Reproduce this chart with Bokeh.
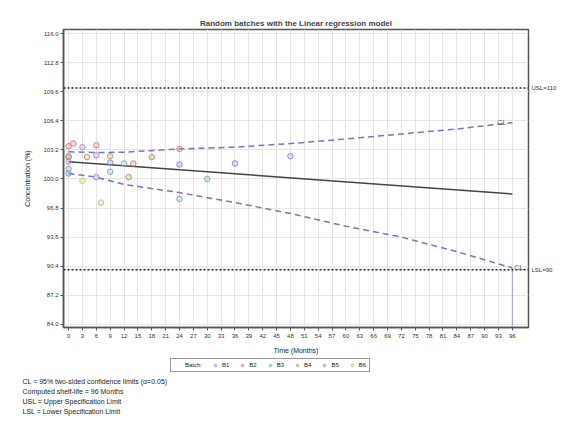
from bokeh.plotting import figure
from bokeh.layouts import column
from bokeh.models import (FixedTicker, PrintfTickFormatter, Label, Legend, LegendItem,
                          Range1d, Span, LinearAxis, Title)
from bokeh.embed import file_html
from bokeh.resources import INLINE

FONT = "Liberation Sans"

# ---- data ----
x_ticks = list(range(0, 97, 3))
y_ticks = [84.0, 87.2, 90.4, 93.6, 96.8, 100.0, 103.2, 106.4, 109.6, 112.8, 116.0]

batch_names = ["B1", "B2", "B3", "B4", "B5", "B6"]
months_B1 = [0, 0, 9, 24, 36, 48]
conc_B1 = [102.5, 100.6, 101.8, 101.6, 101.7, 102.5]
months_B2 = [0, 1, 6, 14, 24]
conc_B2 = [103.6, 103.9, 103.7, 101.7, 103.3]
months_B3 = [0, 9, 12, 24, 30]
conc_B3 = [101.1, 100.8, 101.7, 97.8, 100.0]
months_B4 = [0, 4, 9, 13, 18]
conc_B4 = [102.4, 102.4, 102.5, 100.2, 102.4]
months_B5 = [0, 3, 6, 6]
conc_B5 = [101.9, 103.5, 102.6, 100.2]
months_B6 = [3, 7]
conc_B6 = [99.8, 97.4]

fit_months = [0, 96]
fit_conc = [101.9, 98.35]

cl_months = [0, 6, 12, 24, 36, 48, 60, 72, 84, 96]
cl_upper = [103.0, 102.9, 102.95, 103.3, 103.5, 103.9, 104.4, 104.95, 105.5, 106.2]
cl_lower = [100.6, 100.2, 99.4, 98.5, 97.4, 96.2, 94.8, 93.6, 92.0, 90.2]

usl = 110
lsl = 90
shelf_life = 96

notes = ["CL = 95% two-sided confidence limits (\u03b1=0.05)",
         "Computed shelf-life =      96 Months",
         "USL = Upper Specification Limit",
         "LSL = Lower Specification Limit"]

colors = ["#8c8cd8", "#e07a7a", "#7fb2aa", "#c49a62", "#ad8ad8", "#bccb72"]

W = 574
p = figure(width=W, height=356, output_backend="svg", toolbar_location=None,
           x_range=Range1d(-1.1, 99.5), y_range=Range1d(83.65, 116.45),
           min_border_left=63, min_border_right=46, min_border_top=29, min_border_bottom=29)

p.background_fill_color = "white"
p.border_fill_color = "white"
p.outline_line_color = "#555555"
p.outline_line_width = 1.5

p.title.text = "Random batches with the Linear regression model"
p.title.align = "center"
p.title.text_font = FONT
p.title.text_font_size = "8px"
p.title.text_font_style = "bold"
p.title.standoff = 4

for ax in (p.xaxis[0], p.yaxis[0]):
    ax.axis_label_text_font = FONT
    ax.axis_label_text_font_style = "normal"
    ax.axis_label_text_font_size = "7px"
    ax.axis_label_text_color = "#222222"
    ax.major_label_text_font = FONT
    ax.major_label_text_font_size = "6px"
    ax.major_label_text_color = "#333333"
    ax.minor_tick_line_color = None
    ax.major_tick_in = 0
    ax.major_tick_out = 3
    ax.axis_line_color = "#555555"
    ax.axis_line_width = 1.5
    ax.major_tick_line_color = "#555555"

p.xaxis.ticker = FixedTicker(ticks=x_ticks)
p.yaxis.ticker = FixedTicker(ticks=y_ticks)
p.yaxis.formatter = PrintfTickFormatter(format="%.1f")
p.xaxis.axis_label = "Time (Months)"
p.yaxis.axis_label = "Concentration (%)"
p.xaxis.major_label_standoff = 3
p.xaxis.axis_label_standoff = 6
p.yaxis.major_label_standoff = 2
p.yaxis.axis_label_standoff = 9

# right-hand axis carrying the specification-limit labels
spec_axis = LinearAxis(ticker=FixedTicker(ticks=[lsl, usl]),
                       major_label_overrides={lsl: "LSL=90", usl: "USL=110"},
                       axis_line_color=None, major_tick_line_color=None,
                       minor_tick_line_color=None, major_tick_out=0, major_tick_in=0,
                       major_label_standoff=3,
                       major_label_text_font=FONT, major_label_text_font_size="6px",
                       major_label_text_color="#333333")
p.add_layout(spec_axis, "right")

p.xgrid.ticker = FixedTicker(ticks=x_ticks)
p.ygrid.ticker = FixedTicker(ticks=y_ticks)
p.xgrid.grid_line_color = "#e6e6e6"
p.ygrid.grid_line_color = "#e6e6e6"

# spec limits
p.add_layout(Span(location=usl, dimension="width", line_color="#222222",
                  line_dash="2 2", line_width=1.5))
p.add_layout(Span(location=lsl, dimension="width", line_color="#222222",
                  line_dash="2 2", line_width=1.5))

# confidence limits and regression
p.line(cl_months, cl_upper, line_color="#7474c8", line_dash="6 4", line_width=1.5)
p.line(cl_months, cl_lower, line_color="#7474c8", line_dash="6 4", line_width=1.5)
p.line(fit_months, fit_conc, line_color="#444444", line_width=1.5)
p.segment(x0=[shelf_life], y0=[cl_lower[-1]], x1=[shelf_life], y1=[83.65],
          line_color="#9a9ae0", line_width=1)

months = [months_B1, months_B2, months_B3, months_B4, months_B5, months_B6]
concs = [conc_B1, conc_B2, conc_B3, conc_B4, conc_B5, conc_B6]
for name, m, c, col in zip(batch_names, months, concs, colors):
    p.scatter(m, c, marker="circle", size=5.5, line_color=col, line_width=1,
              fill_color=col, fill_alpha=0.25)

p.add_layout(Label(x=shelf_life, y=cl_upper[-1], text="CL", x_offset=-15,
                   text_baseline="middle", text_font=FONT, text_font_size="7px",
                   text_color="#555555"))
p.add_layout(Label(x=shelf_life, y=cl_lower[-1], text="CL", x_offset=2,
                   text_baseline="middle", text_font=FONT, text_font_size="7px",
                   text_color="#555555"))

# ---- lower panel: legend (in frame) and footnotes (titles below frame) ----
H2 = 69
q = figure(width=W, height=H2, output_backend="svg", toolbar_location=None,
           x_range=Range1d(0, 1), y_range=Range1d(0, 1),
           x_axis_type=None, y_axis_type=None,
           min_border_left=63, min_border_right=46, min_border_top=0, min_border_bottom=0)
q.grid.visible = False
q.outline_line_color = None
q.background_fill_color = "white"
q.border_fill_color = "white"

for t in notes + [" "]:
    q.add_layout(Title(text=t, align="left", offset=-41, standoff=1,
                       text_font=FONT, text_font_size="7px", text_font_style="normal",
                       text_color="#222222"), "below")

dummy = q.scatter([-100], [-100], size=1, fill_alpha=0, line_alpha=0)
items = [LegendItem(label="Batch:", renderers=[dummy])]
for name, col in zip(batch_names, colors):
    r = q.scatter([-100], [-100], marker="circle", size=5.5, line_color=col,
                  line_width=1, fill_color=col, fill_alpha=0.25)
    items.append(LegendItem(label=name, renderers=[r]))
legend = Legend(items=items, orientation="horizontal", location=(107, 3),
                label_text_font=FONT, label_text_font_size="6px",
                label_text_color="#222222", label_width=6,
                glyph_width=8, glyph_height=6, label_standoff=3, spacing=9,
                padding=3, margin=0, border_line_color="#333333", border_line_width=1.5,
                label_height=6, background_fill_color="white")
q.add_layout(legend)

layout = column(p, q, spacing=0)

open("out.html", "w").write(file_html(layout, INLINE))
